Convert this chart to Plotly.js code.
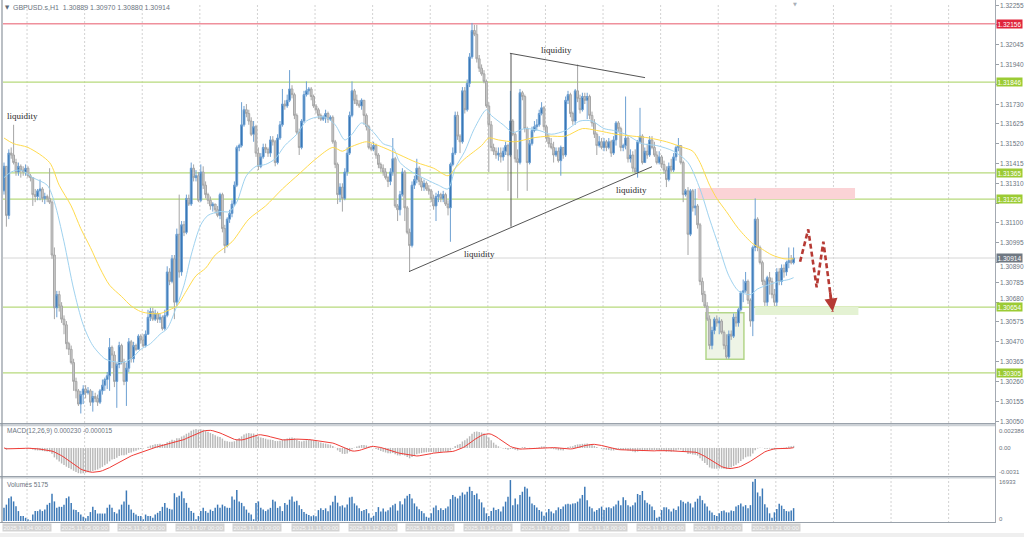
<!DOCTYPE html>
<html><head><meta charset="utf-8">
<script src="https://cdn.plot.ly/plotly-3.0.1.min.js"></script>
<style>html,body{margin:0;padding:0;background:#fff;overflow:hidden}#chart{width:1024px;height:537px}</style>
</head><body><div id="chart"></div>
<script>
// ---------------- DATA ----------------
const symbolHeader = 'GBPUSD.s,H1  1.30889 1.30970 1.30880 1.30914';
const macdHeader = 'MACD(12,26,9) 0.000230 -0.000015';
const volumeHeader = 'Volumes 5175';
const firstOpen = 1.3127;
const close = [
1.3140,1.3114,1.3147,1.3146,1.3142,1.3137,1.3140,1.3138,1.3137,1.3139,
1.3135,1.3134,1.3125,1.3124,1.3127,1.3128,1.3123,1.3124,1.3123,1.3121,
1.3093,1.3065,1.3072,1.3066,1.3059,1.3056,1.3046,1.3043,1.3036,1.3026,
1.3021,1.3014,1.3019,1.3022,1.3020,1.3021,1.3015,1.3018,1.3017,1.3015,
1.3021,1.3024,1.3027,1.3029,1.3044,1.3040,1.3026,1.3035,1.3045,1.3036,
1.3026,1.3033,1.3047,1.3038,1.3045,1.3043,1.3050,1.3048,1.3045,1.3051,
1.3060,1.3063,1.3059,1.3062,1.3059,1.3060,1.3054,1.3061,1.3084,1.3079,
1.3091,1.3068,1.3104,1.3084,1.3109,1.3105,1.3123,1.3120,1.3139,1.3134,
1.3135,1.3122,1.3137,1.3130,1.3125,1.3122,1.3119,1.3120,1.3117,1.3114,
1.3125,1.3107,1.3098,1.3112,1.3115,1.3120,1.3130,1.3150,1.3151,1.3162,
1.3170,1.3168,1.3164,1.3157,1.3161,1.3147,1.3140,1.3145,1.3150,1.3149,
1.3147,1.3154,1.3153,1.3142,1.3155,1.3162,1.3173,1.3172,1.3175,1.3181,
1.3178,1.3167,1.3158,1.3150,1.3164,1.3178,1.3180,1.3181,1.3177,1.3172,
1.3170,1.3167,1.3165,1.3166,1.3168,1.3165,1.3166,1.3153,1.3141,1.3125,
1.3129,1.3123,1.3137,1.3147,1.3167,1.3180,1.3175,1.3173,1.3172,1.3175,
1.3167,1.3161,1.3150,1.3149,1.3151,1.3146,1.3141,1.3139,1.3137,1.3134,
1.3132,1.3137,1.3144,1.3119,1.3117,1.3125,1.3137,1.3118,1.3105,1.3098,
1.3130,1.3133,1.3139,1.3132,1.3129,1.3131,1.3128,1.3127,1.3123,1.3119,
1.3124,1.3125,1.3123,1.3125,1.3120,1.3118,1.3141,1.3147,1.3167,1.3156,
1.3153,1.3180,1.3170,1.3184,1.3198,1.3212,1.3210,1.3197,1.3192,1.3189,
1.3185,1.3172,1.3162,1.3150,1.3148,1.3146,1.3147,1.3145,1.3148,1.3151,
1.3146,1.3164,1.3157,1.3144,1.3142,1.3179,1.3177,1.3160,1.3142,1.3152,
1.3159,1.3161,1.3162,1.3168,1.3171,1.3161,1.3155,1.3152,1.3150,1.3146,
1.3148,1.3143,1.3150,1.3146,1.3175,1.3178,1.3168,1.3164,1.3180,1.3176,
1.3170,1.3177,1.3175,1.3177,1.3167,1.3163,1.3157,1.3151,1.3153,1.3150,
1.3153,1.3150,1.3153,1.3147,1.3154,1.3163,1.3160,1.3150,1.3151,1.3155,
1.3144,1.3146,1.3139,1.3137,1.3153,1.3156,1.3142,1.3148,1.3146,1.3154,
1.3150,1.3146,1.3142,1.3145,1.3141,1.3138,1.3133,1.3140,1.3138,1.3145,
1.3150,1.3151,1.3142,1.3125,1.3127,1.3104,1.3127,1.3118,1.3119,1.3109,
1.3079,1.3072,1.3066,1.3059,1.3045,1.3053,1.3059,1.3057,1.3058,1.3052,
1.3045,1.3039,1.3051,1.3050,1.3060,1.3057,1.3064,1.3073,1.3074,1.3079,
1.3069,1.3058,1.3097,1.3112,1.3097,1.3089,1.3079,1.3068,1.3081,1.3079,
1.3072,1.3068,1.3084,1.3079,1.3086,1.3084,1.3089,1.3090,1.30889,1.30914];
const high = [
1.3142,1.3140,1.3149,1.3150,1.3162,1.3144,1.3142,1.3141,1.3140,1.3141,
1.3140,1.3136,1.3134,1.3128,1.3128,1.3133,1.3129,1.3126,1.3125,1.3139,
1.3122,1.3097,1.3074,1.3074,1.3068,1.3061,1.3058,1.3047,1.3045,1.3038,
1.3028,1.3022,1.3021,1.3024,1.3024,1.3023,1.3022,1.3021,1.3020,1.3019,
1.3022,1.3027,1.3028,1.3031,1.3049,1.3045,1.3042,1.3036,1.3047,1.3046,
1.3038,1.3036,1.3049,1.3048,1.3047,1.3046,1.3051,1.3051,1.3051,1.3053,
1.3064,1.3065,1.3065,1.3064,1.3063,1.3062,1.3061,1.3064,1.3087,1.3086,
1.3093,1.3093,1.3107,1.3125,1.3111,1.3111,1.3125,1.3125,1.3142,1.3141,
1.3138,1.3137,1.3141,1.3140,1.3132,1.3126,1.3124,1.3121,1.3120,1.3119,
1.3126,1.3126,1.3109,1.3113,1.3117,1.3122,1.3132,1.3151,1.3152,1.3174,
1.3172,1.3173,1.3170,1.3166,1.3164,1.3162,1.3150,1.3147,1.3152,1.3152,
1.3150,1.3156,1.3156,1.3154,1.3157,1.3164,1.3181,1.3175,1.3178,1.3191,
1.3183,1.3179,1.3168,1.3160,1.3165,1.3180,1.3185,1.3182,1.3182,1.3178,
1.3173,1.3171,1.3168,1.3167,1.3170,1.3169,1.3167,1.3167,1.3154,1.3142,
1.3131,1.3131,1.3139,1.3150,1.3169,1.3185,1.3181,1.3178,1.3175,1.3176,
1.3175,1.3168,1.3162,1.3152,1.3153,1.3152,1.3147,1.3142,1.3141,1.3139,
1.3135,1.3139,1.3155,1.3145,1.3120,1.3127,1.3139,1.3138,1.3119,1.3107,
1.3132,1.3135,1.3144,1.3140,1.3134,1.3133,1.3132,1.3130,1.3128,1.3125,
1.3126,1.3127,1.3126,1.3127,1.3126,1.3122,1.3142,1.3150,1.3169,1.3169,
1.3157,1.3182,1.3182,1.3186,1.3200,1.3216,1.3215,1.3215,1.3199,1.3194,
1.3191,1.3186,1.3174,1.3164,1.3152,1.3150,1.3150,1.3150,1.3150,1.3153,
1.3152,1.3180,1.3165,1.3158,1.3149,1.3181,1.3180,1.3178,1.3161,1.3154,
1.3161,1.3164,1.3165,1.3170,1.3174,1.3172,1.3162,1.3157,1.3155,1.3153,
1.3150,1.3150,1.3151,1.3150,1.3177,1.3180,1.3179,1.3169,1.3181,1.3194,
1.3178,1.3179,1.3179,1.3179,1.3178,1.3169,1.3165,1.3158,1.3156,1.3155,
1.3155,1.3154,1.3155,1.3154,1.3156,1.3164,1.3164,1.3161,1.3152,1.3177,
1.3156,1.3149,1.3148,1.3149,1.3154,1.3171,1.3157,1.3150,1.3152,1.3156,
1.3156,1.3153,1.3148,1.3148,1.3146,1.3143,1.3140,1.3142,1.3144,1.3147,
1.3151,1.3155,1.3151,1.3143,1.3128,1.3129,1.3128,1.3128,1.3128,1.3120,
1.3110,1.3081,1.3074,1.3068,1.3061,1.3055,1.3060,1.3061,1.3060,1.3059,
1.3053,1.3051,1.3053,1.3053,1.3062,1.3062,1.3065,1.3074,1.3080,1.3084,
1.3080,1.3070,1.3098,1.3123,1.3113,1.3098,1.3090,1.3080,1.3082,1.3084,
1.3081,1.3075,1.3086,1.3086,1.3088,1.3088,1.3090,1.3097,1.3093,1.30970];
const low = [
1.3125,1.3108,1.3112,1.3144,1.3141,1.3135,1.3135,1.3134,1.3135,1.3135,
1.3134,1.3132,1.3119,1.3121,1.3122,1.3122,1.3121,1.3120,1.3121,1.3120,
1.3091,1.3059,1.3060,1.3063,1.3057,1.3051,1.3043,1.3040,1.3035,1.3021,
1.3017,1.3013,1.3009,1.3014,1.3017,1.3019,1.3013,1.3010,1.3015,1.3013,
1.3014,1.3019,1.3021,1.3022,1.3021,1.3033,1.3023,1.3012,1.3033,1.3035,
1.3024,1.3013,1.3031,1.3036,1.3036,1.3042,1.3043,1.3046,1.3044,1.3044,
1.3051,1.3058,1.3058,1.3058,1.3057,1.3057,1.3053,1.3053,1.3060,1.3077,
1.3078,1.3059,1.3066,1.3081,1.3082,1.3103,1.3104,1.3119,1.3119,1.3132,
1.3132,1.3121,1.3121,1.3128,1.3123,1.3120,1.3117,1.3116,1.3115,1.3113,
1.3112,1.3105,1.3094,1.3097,1.3110,1.3113,1.3119,1.3129,1.3148,1.3150,
1.3161,1.3166,1.3162,1.3156,1.3153,1.3145,1.3138,1.3139,1.3144,1.3147,
1.3145,1.3145,1.3151,1.3140,1.3141,1.3154,1.3161,1.3170,1.3171,1.3174,
1.3176,1.3165,1.3157,1.3146,1.3149,1.3163,1.3177,1.3178,1.3175,1.3171,
1.3168,1.3165,1.3164,1.3164,1.3163,1.3163,1.3164,1.3152,1.3139,1.3120,
1.3121,1.3116,1.3122,1.3135,1.3146,1.3166,1.3173,1.3172,1.3171,1.3170,
1.3162,1.3159,1.3149,1.3148,1.3148,1.3144,1.3139,1.3137,1.3135,1.3133,
1.3129,1.3130,1.3135,1.3118,1.3111,1.3114,1.3124,1.3111,1.3104,1.3084,
1.3097,1.3128,1.3131,1.3130,1.3127,1.3127,1.3127,1.3125,1.3121,1.3117,
1.3111,1.3121,1.3121,1.3121,1.3119,1.3114,1.3100,1.3140,1.3146,1.3154,
1.3147,1.3152,1.3168,1.3169,1.3182,1.3197,1.3209,1.3195,1.3190,1.3188,
1.3184,1.3171,1.3137,1.3148,1.3146,1.3144,1.3143,1.3142,1.3143,1.3146,
1.3127,1.3145,1.3156,1.3142,1.3123,1.3141,1.3175,1.3158,1.3127,1.3141,
1.3151,1.3158,1.3159,1.3161,1.3167,1.3159,1.3153,1.3150,1.3149,1.3142,
1.3145,1.3142,1.3135,1.3144,1.3145,1.3173,1.3166,1.3162,1.3162,1.3174,
1.3168,1.3169,1.3173,1.3165,1.3165,1.3161,1.3155,1.3146,1.3150,1.3149,
1.3148,1.3148,1.3149,1.3145,1.3146,1.3151,1.3158,1.3148,1.3148,1.3149,
1.3142,1.3142,1.3137,1.3136,1.3134,1.3152,1.3141,1.3142,1.3144,1.3145,
1.3149,1.3145,1.3141,1.3141,1.3139,1.3136,1.3129,1.3132,1.3137,1.3137,
1.3143,1.3148,1.3141,1.3121,1.3124,1.3093,1.3103,1.3116,1.3114,1.3107,
1.3077,1.3068,1.3065,1.3058,1.3043,1.3043,1.3051,1.3055,1.3051,1.3051,
1.3043,1.3038,1.3038,1.3048,1.3049,1.3055,1.3055,1.3063,1.3068,1.3073,
1.3067,1.3055,1.3050,1.3095,1.3095,1.3088,1.3077,1.3066,1.3066,1.3072,
1.3070,1.3066,1.3066,1.3077,1.3077,1.3081,1.3082,1.3086,1.3088,1.30880];
const volume = [
5300,6600,9200,9900,7900,5900,4000,2000,2000,1300,
700,300,2600,4000,4000,4600,4000,4600,6600,7300,
11000,7900,5300,5700,5700,6600,9200,9900,7300,4600,
4400,3600,2600,1700,1100,2000,3600,5700,4400,3000,
3000,3000,3000,5300,6600,5300,3600,3000,4600,6600,
7900,12300,6600,4600,3300,2600,2000,2000,700,2600,
2000,2000,1300,2600,3300,4000,5700,7300,5300,4900,
4600,11200,9600,10200,11900,9200,7300,5300,4000,3300,
700,2000,4000,5300,4000,3300,4600,4000,5300,6600,
5300,6600,5900,5300,5300,9900,8600,12500,7900,7300,
5900,4600,3300,2600,700,7300,7900,5300,4600,4000,
4600,5300,8600,7900,5300,5900,4000,7300,6600,8600,
9900,7800,8200,6400,4800,3600,2900,2400,1900,2300,
1900,4400,5100,4400,5100,3900,6300,7800,10200,7400,
5900,6300,5400,6700,9500,9800,7100,6200,5100,4000,
4400,4800,3100,1300,2100,3600,5600,3800,5000,3800,
4300,5500,6300,7000,4200,8000,6700,9100,10200,10900,
9100,7100,5800,4700,4000,3100,1700,1300,3100,5400,
6200,4400,5100,4400,5100,5800,8800,10500,9800,9100,
10200,11500,10700,11800,13800,12100,10500,11100,8800,7500,
5400,3100,2000,4000,5400,4400,4800,3800,5800,7800,
9800,16500,6400,9100,6700,10500,11800,13800,13100,9800,
7100,6400,5400,4400,3800,2100,3500,4800,3800,3100,
4300,5500,4800,5800,6700,7000,6700,7100,7200,7800,
9100,10500,13800,8400,5800,5100,3800,4400,5100,5800,
4400,5400,5500,5100,5900,6700,8200,6400,9600,8400,
6400,5800,6400,7500,10900,10500,12100,8400,7400,6700,
5800,4400,1300,1700,4400,5500,5500,4700,3800,5000,
4400,5900,8400,7800,7100,7800,7100,5400,7800,9000,
10200,8400,7100,5800,4200,3400,2400,2000,3100,4000,
4200,3500,3400,4200,4000,5800,6400,7100,5800,6400,
5100,6400,15800,16933,11500,10000,13100,6800,5400,3100,
1300,3500,4800,7000,6200,4800,4000,3800,4200,5175];
// moving averages read at sampled bars
const yellowMaBars = [0,4,10,19,23,28,32,36,40,44,49,53,57,61,65,69,72,76,80,84,88,95,102,109,116,123,130,137,141,144,148,151,158,165,172,179,185,188,192,199,202,206,213,220,227,234,241,247,255,262,269,276,283,287,290,294,297,301,306,312,316,320,325,329];
const yellowMa = [1.3155,1.3152,1.3150,1.3142,1.3130,1.3119,1.3107,1.3097,1.3086,1.3077,1.3071,1.3066,1.3063,1.3062,1.3062,1.3064,1.3066,1.3074,1.3082,1.3086,1.3093,1.3100,1.3112,1.3119,1.3128,1.3136,1.3144,1.3150,1.3148,1.3150,1.3152,1.3153,1.3150,1.3146,1.3142,1.3139,1.3135,1.3139,1.3144,1.3151,1.3155,1.3154,1.3153,1.3155,1.3156,1.3156,1.3160,1.3159,1.3157,1.3156,1.3155,1.3153,1.3150,1.3148,1.3142,1.3130,1.3123,1.3116,1.3107,1.3099,1.3096,1.3093,1.3091,1.3091];
const blueMaBars = [0,3,7,12,18,21,25,29,33,37,42,44,49,53,57,61,65,68,72,75,78,82,85,90,94,97,101,105,109,113,117,122,126,130,134,138,142,145,149,154,158,162,165,170,176,181,185,188,192,196,201,203,208,212,217,223,228,234,240,245,250,254,259,266,272,279,285,290,294,298,302,306,311,314,318,323,327,329];
const blueMa = [1.3134,1.3137,1.3138,1.3134,1.3130,1.3121,1.3100,1.3075,1.3056,1.3045,1.3038,1.3037,1.3036,1.3038,1.3043,1.3046,1.3051,1.3054,1.3066,1.3077,1.3093,1.3109,1.3114,1.3116,1.3116,1.3121,1.3135,1.3140,1.3141,1.3144,1.3151,1.3157,1.3164,1.3166,1.3166,1.3162,1.3154,1.3157,1.3163,1.3158,1.3152,1.3150,1.3142,1.3137,1.3133,1.3130,1.3128,1.3139,1.3148,1.3160,1.3170,1.3167,1.3162,1.3158,1.3160,1.3159,1.3157,1.3159,1.3164,1.3164,1.3160,1.3159,1.3157,1.3152,1.3151,1.3148,1.3142,1.3128,1.3112,1.3097,1.3082,1.3074,1.3072,1.3075,1.3077,1.3079,1.3080,1.3081];
const redLevels = [1.32156];
const greenLevels = [1.31846,1.31365,1.31226,1.30654,1.30305];
const currentPrice = 1.30914;
const dateLabels = ['2025.11.04 00:00','2025.11.05 00:00','2025.11.06 00:00','2025.11.07 00:00','2025.11.10 00:00','2025.11.11 00:00','2025.11.12 00:00','2025.11.13 00:00','2025.11.14 00:00','2025.11.17 00:00','2025.11.18 00:00','2025.11.19 00:00','2025.11.20 00:00','2025.11.21 00:00'];
const firstDayBar = 9.6, barsPerDay = 24;
// price-scale labels: first value, step and count as shown on the right scale
const priceTick0 = 1.30050, priceTickStep = 0.00105, priceTickCount = 22;
// drawn objects (bar index, price)
const resistanceZone = {x0:289, x1:354.6, y0:1.31226, y1:1.31285};
const supportZone = {x0:313, x1:356, y0:1.30612, y1:1.30654};
const baseBox = {x0:292.5, x1:308.3, y0:1.30377, y1:1.30624};
const triangle = [
  {x0:168.75, y0:1.30842, x1:270, y1:1.31398},
  {x0:210.8, y0:1.31999, x1:267.1, y1:1.31870},
  {x0:211.25, y0:1.31999, x1:211.25, y1:1.31080}];
const liquidityLabels = [
  {x:7.5, y:1.31667},{x:230.4, y:1.32017},{x:198.3, y:1.30935},{x:261.3, y:1.31272}];
const forecastBars = [331.7,335.1,338.6,341.4,345.3];
const forecastPrices = [1.30894,1.31066,1.30759,1.31001,1.30630];
const macdTop = 0.002386, macdBottom = -0.0031, volumeMax = 16933;

// ---------------- DERIVED ----------------
const idx = close.map((_, i) => i);
const open = close.map((c, i) => i === 0 ? firstOpen : close[i - 1]);
// MACD(12,26,9) as MT4 computes it from the close prices
function ema(src, n){ const k = 2/(n+1); const out = []; let e = src[0];
  for (let i=0;i<src.length;i++){ e = i===0 ? src[0] : src[i]*k + e*(1-k); out.push(e); } return out; }
const e12 = ema(close,12), e26 = ema(close,26);
const macd = close.map((_, i) => e12[i] - e26[i]);
const signal = macd.map((_, i) => { const a = Math.max(0, i-8); let s = 0; for (let j=a;j<=i;j++) s += macd[j]; return s/(i-a+1); });

// ---------------- LAYOUT HELPERS ----------------
const W = 1024, H = 537;
const PX = x => x / W, PY = y => 1 - y / H;
const labelFont = {family:'Liberation Sans, Arial, sans-serif', size:6.5, color:'#6b7480'};
const smallFont = {family:'Liberation Sans, Arial, sans-serif', size:6, color:'#6b7480'};
const priceTicks = []; for (let k=0;k<priceTickCount;k++) priceTicks.push(+(priceTick0 + priceTickStep*k).toFixed(5));
const allLevels = redLevels.concat(greenLevels, [currentPrice]);
const pxPerPrice = 1 / 0.000053;

const traces = [
  {type:'candlestick', x:idx, open:open, high:high, low:low, close:close, xaxis:'x', yaxis:'y',
   increasing:{line:{color:'#6c9fd2', width:1}, fillcolor:'#2f6fb0'},
   decreasing:{line:{color:'#a6a6a6', width:1}, fillcolor:'#cbcbcb'},
   whiskerwidth:0, hoverinfo:'skip', showlegend:false},
  {type:'scatter', mode:'lines', x:blueMaBars, y:blueMa, xaxis:'x', yaxis:'y', line:{color:'#9fd2ef', width:1, shape:'spline', smoothing:0.8}, hoverinfo:'skip'},
  {type:'scatter', mode:'lines', x:yellowMaBars, y:yellowMa, xaxis:'x', yaxis:'y', line:{color:'#ffdb4d', width:1, shape:'spline', smoothing:0.8}, hoverinfo:'skip'},
  {type:'scatter', mode:'lines', x:forecastBars, y:forecastPrices, xaxis:'x', yaxis:'y', line:{color:'#b63a34', width:2.6, dash:'5px,3px'}, hoverinfo:'skip'},
  {type:'bar', x:idx, y:macd, xaxis:'x', yaxis:'y2', width:0.6, marker:{color:'#b9b9b9', line:{width:0}}, hoverinfo:'skip'},
  {type:'scatter', mode:'lines', x:idx, y:signal, xaxis:'x', yaxis:'y2', line:{color:'#ef3b36', width:1}, hoverinfo:'skip'},
  {type:'bar', x:idx, y:volume, xaxis:'x', yaxis:'y3', width:0.62, marker:{color:'#3b78b6', line:{width:0}}, hoverinfo:'skip'}
];

const shapes = [];
for (let k=0;k<=16;k++){
  const gx = firstDayBar + barsPerDay*k;
  shapes.push({type:'line', layer:'below', xref:'x', yref:'paper', x0:gx, x1:gx, y0:PY(523), y1:PY(3), line:{color:'#d2d2d2', width:1, dash:'2px,2px'}});
}
shapes.push({type:'rect', layer:'below', xref:'x', yref:'y', x0:resistanceZone.x0, x1:resistanceZone.x1, y0:resistanceZone.y0, y1:resistanceZone.y1, fillcolor:'#fbd3d6', line:{width:0}});
shapes.push({type:'rect', layer:'below', xref:'x', yref:'y', x0:supportZone.x0, x1:supportZone.x1, y0:supportZone.y0, y1:supportZone.y1, fillcolor:'#e4f2d3', line:{width:0}});
shapes.push({type:'rect', layer:'below', xref:'x', yref:'y', x0:baseBox.x0, x1:baseBox.x1, y0:baseBox.y0, y1:baseBox.y1, fillcolor:'#eef4e6', line:{color:'#b3d68a', width:1.5}});
redLevels.forEach(v => shapes.push({type:'line', layer:'below', xref:'paper', yref:'y', x0:PX(3), x1:PX(995), y0:v, y1:v, line:{color:'#ef909c', width:1.5}}));
greenLevels.forEach(v => shapes.push({type:'line', layer:'below', xref:'paper', yref:'y', x0:PX(3), x1:PX(995), y0:v, y1:v, line:{color:'#b7da7c', width:1.2}}));
shapes.push({type:'line', layer:'below', xref:'paper', yref:'y', x0:PX(3), x1:PX(995), y0:currentPrice, y1:currentPrice, line:{color:'#d6d6d6', width:1}});
triangle.forEach(t => shapes.push({type:'line', layer:'above', xref:'x', yref:'y', x0:t.x0, y0:t.y0, x1:t.x1, y1:t.y1, line:{color:'#555555', width:1}}));
// panel frames and separators
[[423,426.3],[476,478.5]].forEach(s => {
  shapes.push({type:'rect', layer:'above', xref:'paper', yref:'paper', x0:0, x1:PX(995.5), y0:PY(s[1]), y1:PY(s[0]), fillcolor:'#ccd1d6', line:{width:0}});
  shapes.push({type:'line', layer:'above', xref:'paper', yref:'paper', x0:0, x1:PX(995.5), y0:PY(s[0]+0.5), y1:PY(s[0]+0.5), line:{color:'#9aa2ab', width:1}});
});
shapes.push({type:'line', layer:'above', xref:'paper', yref:'paper', x0:0, x1:PX(995.5), y0:PY(522.5), y1:PY(522.5), line:{color:'#9aa2ab', width:1}});
shapes.push({type:'line', layer:'above', xref:'paper', yref:'paper', x0:PX(995.5), x1:PX(995.5), y0:PY(523), y1:PY(0), line:{color:'#a4aab2', width:1}});
shapes.push({type:'line', layer:'above', xref:'paper', yref:'paper', x0:PX(2), x1:PX(2), y0:PY(523), y1:PY(0), line:{color:'#8d959e', width:1.2}});
shapes.push({type:'rect', layer:'above', xref:'paper', yref:'paper', x0:0, x1:1, y0:0, y1:PY(533), fillcolor:'#efefef', line:{width:0}});

const annotations = [];
annotations.push({xref:'paper', yref:'paper', x:PX(3), y:PY(7), xanchor:'left', yanchor:'middle', showarrow:false, text:'▼', font:{family:'DejaVu Sans', size:5.5, color:'#5f6873'}});
annotations.push({xref:'paper', yref:'paper', x:PX(11), y:PY(7), xanchor:'left', yanchor:'middle', showarrow:false, text:symbolHeader, font:{family:'Liberation Sans, Arial', size:7, color:'#6b7480'}});
annotations.push({xref:'paper', yref:'paper', x:PX(795), y:PY(4), xanchor:'center', yanchor:'middle', showarrow:false, text:'▼', font:{family:'DejaVu Sans', size:5, color:'#a9b0b8'}});
annotations.push({xref:'paper', yref:'paper', x:PX(5), y:PY(431), xanchor:'left', yanchor:'middle', showarrow:false, text:macdHeader, font:labelFont});
annotations.push({xref:'paper', yref:'paper', x:PX(5), y:PY(484), xanchor:'left', yanchor:'middle', showarrow:false, text:volumeHeader, font:labelFont});
// price scale labels: hidden where a level box covers them, nudged where a box sits next to them
priceTicks.forEach(v => {
  let shift = 0, hidden = false;
  allLevels.forEach(l => { const d = (v - l) * pxPerPrice; // +: label above the box
    if (Math.abs(d) < 4) hidden = true;
    else if (Math.abs(d) < 8.5) shift = (d > 0 ? 1 : -1) * (8.5 - Math.abs(d)); });
  if (hidden) return;
  annotations.push({xref:'paper', yref:'y', x:PX(998), y:v, yshift:shift, xanchor:'left', yanchor:'middle', showarrow:false, text:v.toFixed(5), font:labelFont});
});
const sideLabel = (txt, py) => annotations.push({xref:'paper', yref:'paper', x:PX(996.5), y:PY(py), xanchor:'left', yanchor:'middle', showarrow:false, text:txt, font:smallFont});
sideLabel(macdTop.toFixed(6), 430.5); sideLabel('0.00', 448); sideLabel(macdBottom.toFixed(4), 472);
sideLabel(String(volumeMax), 482); sideLabel('0', 519);
const levelBox = (v, bg) => annotations.push({xref:'paper', yref:'y', x:PX(996), y:v, xanchor:'left', yanchor:'middle', showarrow:false, text:v.toFixed(5), bgcolor:bg, borderpad:0.5, font:{family:'Liberation Sans, Arial', size:6.5, color:'#ffffff'}});
redLevels.forEach(v => levelBox(v, '#e0263c'));
greenLevels.forEach(v => levelBox(v, '#9bcb34'));
levelBox(currentPrice, '#6f7882');
dateLabels.forEach((d, k) => annotations.push({xref:'x', yref:'paper', x:firstDayBar + barsPerDay*k, y:PY(527.8), xanchor:'center', yanchor:'middle', showarrow:false, text:d, bgcolor:'#d3d3d3', borderpad:0.5, font:{family:'Liberation Sans, Arial', size:6, color:'#f7f7f7'}}));
liquidityLabels.forEach(p => annotations.push({xref:'x', yref:'y', x:p.x, y:p.y, xanchor:'center', yanchor:'middle', showarrow:false, text:'liquidity', font:{family:'Liberation Serif, Times New Roman, serif', size:9, color:'#2b2b2b'}}));
const n = forecastBars.length;
annotations.push({xref:'x', yref:'y', axref:'x', ayref:'y', x:forecastBars[n-1], y:forecastPrices[n-1],
  ax:forecastBars[n-1] - (forecastBars[n-1]-forecastBars[n-2])*0.3, ay:forecastPrices[n-1] - (forecastPrices[n-1]-forecastPrices[n-2])*0.3,
  showarrow:true, arrowhead:2, arrowsize:1, arrowwidth:2.6, arrowcolor:'#b63a34', text:''});

const layout = {
  width:W, height:H, margin:{l:0, r:0, t:0, b:0}, paper_bgcolor:'#ffffff', plot_bgcolor:'#ffffff',
  showlegend:false, hovermode:false, barmode:'overlay', boxgap:0.25, boxgroupgap:0,
  font:{family:'Liberation Sans, Arial, sans-serif'},
  xaxis:{domain:[PX(3), PX(995)], range:[(3-4)/2.4, (995-4)/2.4], anchor:'y', showgrid:false, zeroline:false, showticklabels:false, ticks:'', showline:false, rangeslider:{visible:false}, fixedrange:true},
  yaxis:{domain:[PY(423), PY(3)], range:[1.32255 - 418*0.000053, 1.32255 + 2*0.000053], side:'right', anchor:'x',
    tickmode:'array', tickvals:priceTicks, showticklabels:false, ticks:'outside', ticklen:3, tickcolor:'#9aa0a8',
    showgrid:false, zeroline:false, showline:false, fixedrange:true},
  yaxis2:{domain:[PY(475), PY(427)], range:[macdBottom, macdTop], anchor:'x', showticklabels:false, showgrid:false, zeroline:false, ticks:'', fixedrange:true},
  yaxis3:{domain:[PY(521), PY(479)], range:[0, volumeMax], anchor:'x', showticklabels:false, showgrid:false, zeroline:false, ticks:'', fixedrange:true},
  shapes:shapes, annotations:annotations
};
Plotly.newPlot('chart', traces, layout, {displayModeBar:false, staticPlot:true});
</script></body></html>
